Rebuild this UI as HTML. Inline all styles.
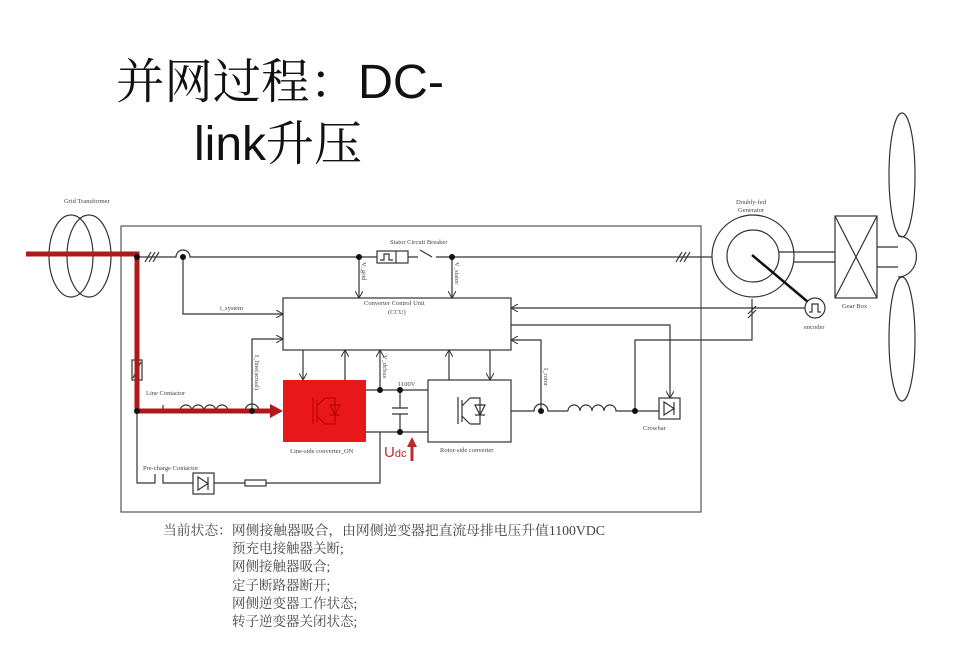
<!DOCTYPE html>
<html><head><meta charset="utf-8">
<style>
html,body{margin:0;padding:0;background:#fff;}
svg{display:block;}
.t{font-family:"Liberation Serif","Noto Serif CJK SC",serif;fill:#444;}
</style></head>
<body>
<svg width="960" height="668" viewBox="0 0 960 668" xmlns="http://www.w3.org/2000/svg">
<defs>
<marker id="a" markerWidth="8" markerHeight="8" refX="7" refY="4" orient="auto" markerUnits="userSpaceOnUse">
<path d="M0,0 L7,4 L0,8" fill="none" stroke="#333" stroke-width="1"/></marker>
</defs>
<rect width="960" height="668" fill="#fff"/>
<!-- title -->
<text x="116" y="98" font-family="'Liberation Sans','Noto Serif CJK SC',sans-serif" font-size="48" fill="#111" textLength="328" lengthAdjust="spacingAndGlyphs">并网过程：DC-</text>
<text x="194" y="160" font-family="'Liberation Sans','Noto Serif CJK SC',sans-serif" font-size="48" fill="#111">link升压</text>

<g fill="none" stroke="#333" stroke-width="1.2">
<rect x="121" y="226" width="580" height="286" stroke="#555"/>
<ellipse cx="71" cy="256" rx="22" ry="41"/>
<ellipse cx="89" cy="256" rx="22" ry="41"/>
<path d="M137,257 H176 A7,7 0 0 1 190,257 H377"/>
<path d="M408,257 H418 M432,257 L420,250 M436,257 H712"/>
<path d="M145,262 L151,252 M149,262 L155,252 M153,262 L159,252"/>
<path d="M676,262 L682,252 M680,262 L686,252 M684,262 L690,252"/>
<rect x="377" y="251" width="31" height="12"/>
<path d="M380,260 H384 V254 H389 V260 H393 M396,251 V263"/>
<path d="M183,257 V314 H283" marker-end="url(#a)"/>
<path d="M359,257 V298" marker-end="url(#a)"/>
<path d="M452,257 V298" marker-end="url(#a)"/>
<rect x="283" y="298" width="228" height="52"/>
<path d="M252,411 V339 H283" marker-end="url(#a)"/>
<path d="M303,350 V380" marker-end="url(#a)"/>
<path d="M345,380 V350" marker-end="url(#a)"/>
<path d="M449,380 V350" marker-end="url(#a)"/>
<path d="M490,350 V380" marker-end="url(#a)"/>
<path d="M380,390 V350" marker-end="url(#a)"/>
<path d="M163,405 V411"/>
<path d="M180,411 a6,6 0 0 1 12,0 a6,6 0 0 1 12,0 a6,6 0 0 1 12,0 a6,6 0 0 1 12,0"/>
<path d="M245,411 A7,7 0 0 1 259,411"/>
<rect x="132" y="360" width="10" height="20"/>
<path d="M133,378 L141,362"/>
<path d="M137,411 V483 H155 V474 M163,474 V483 H193"/>
<rect x="193" y="473" width="21" height="21"/>
<path d="M198,477 V490 L208,483.5 Z M208,477 V490"/>
<path d="M214,483 H245"/>
<rect x="245" y="480" width="21" height="6"/>
<path d="M266,483 H380 V432"/>
<path d="M366,390 H428 M366,432 H428"/>
<path d="M400,390 V408 M392,408 H408 M392,414 H408 M400,414 V432"/>
<rect x="428" y="380" width="83" height="62"/>
<path d="M458,397 V424 M462,400 V422 M462,406 L470,398 M462,416 L470,424 M470,398 H480 V424 H470 M475,405 H485 L480,415 Z M475,415 H485"/>
<path d="M511,411 H534 A7,7 0 0 1 548,411 H568"/>
<path d="M568,411 a6,6 0 0 1 12,0 a6,6 0 0 1 12,0 a6,6 0 0 1 12,0 a6,6 0 0 1 12,0 H659"/>
<path d="M541,411 V340 H511" marker-end="url(#a)"/>
<rect x="659" y="398" width="21" height="21"/>
<path d="M664,402 V415 L674,408.5 Z M674,402 V415"/>
<path d="M511,325 H670 V398" marker-end="url(#a)"/>
<path d="M635,411 V340 H752 V299"/>
<path d="M748,318 L756,310 M748,314 L756,306"/>
<path d="M805,308 H511" marker-end="url(#a)"/>
<circle cx="753" cy="256" r="41"/>
<circle cx="753" cy="256" r="26"/>
<path d="M752,255 L808,302" stroke="#111" stroke-width="2.5"/>
<circle cx="815" cy="308" r="10" fill="#fff"/>
<path d="M809,312 H812 V304 H818 V312 H821"/>
<path d="M779,252 H835 M794,262 H835"/>
<rect x="835" y="216" width="42" height="82"/>
<path d="M835,216 L877,298 M877,216 L835,298"/>
<path d="M877,247 H898 M877,267 H898"/>
<path d="M898,236 A18,20 0 0 1 898,277"/>
<ellipse cx="902" cy="175" rx="13" ry="62"/>
<ellipse cx="902" cy="339" rx="13" ry="62"/>
</g>
<rect x="283" y="380" width="83" height="62" fill="#e8171a"/>
<g fill="none" stroke="#b00" stroke-width="1">
<path d="M313,397 V424 M317,400 V422 M317,406 L325,398 M317,416 L325,424 M325,398 H335 V424 H325 M330,405 H340 L335,415 Z M330,415 H340"/>
</g>
<path d="M26,254 H137 V411 H272" fill="none" stroke="#b0191c" stroke-width="5"/>
<path d="M270,404 L283,411 L270,418 Z" fill="#b0191c"/>
<g fill="#111">
<circle cx="137" cy="257" r="3"/><circle cx="183" cy="257" r="3"/><circle cx="359" cy="257" r="3"/><circle cx="452" cy="257" r="3"/>
<circle cx="137" cy="411" r="3"/><circle cx="252" cy="411" r="3"/>
<circle cx="380" cy="390" r="3"/><circle cx="400" cy="390" r="3"/><circle cx="400" cy="432" r="3"/>
<circle cx="541" cy="411" r="3"/><circle cx="635" cy="411" r="3"/>
</g>
<text x="384" y="457" font-family="'Liberation Sans',sans-serif" font-size="15" fill="#c0282c">U<tspan font-size="11">dc</tspan></text>
<path d="M412,461 V445" stroke="#c0282c" stroke-width="3"/>
<path d="M407,447 L412,437 L417,447 Z" fill="#c0282c"/>
<g class="t" font-size="6.5">
<text x="64" y="203">Grid Transformer</text>
<text x="390" y="244">Stator Circuit Breaker</text>
<text x="364" y="305">Converter Control Unit</text>
<text x="388" y="314">(CCU)</text>
<text x="220" y="310">i_system</text>
<text x="146" y="395">Line Contactor</text>
<text x="143" y="470">Pre-charge Contactor</text>
<text x="290" y="453">Line-side converter_ON</text>
<text x="440" y="452">Rotor-side converter</text>
<text x="398" y="386">1100V</text>
<text x="643" y="430">Crowbar</text>
<text x="736" y="204">Doubly-fed</text>
<text x="738" y="212">Generator</text>
<text x="804" y="329">encoder</text>
<text x="842" y="308">Gear Box</text>
<text transform="translate(362,262) rotate(90)">V_grid</text>
<text transform="translate(455,262) rotate(90)">V_stator</text>
<text transform="translate(255,355) rotate(90)">I_line(actual)</text>
<text transform="translate(383,355) rotate(90)">V_dcbus</text>
<text transform="translate(544,368) rotate(90)">I_rotor</text>
</g>
<g class="t" font-size="13.5" fill="#333">
<text x="163" y="535" textLength="442" lengthAdjust="spacingAndGlyphs">当前状态：网侧接触器吸合，由网侧逆变器把直流母排电压升值1100VDC</text>
<text x="232" y="553">预充电接触器关断;</text>
<text x="232" y="571">网侧接触器吸合;</text>
<text x="232" y="590">定子断路器断开;</text>
<text x="232" y="608">网侧逆变器工作状态;</text>
<text x="232" y="626">转子逆变器关闭状态;</text>
</g>
</svg>
</body></html>
